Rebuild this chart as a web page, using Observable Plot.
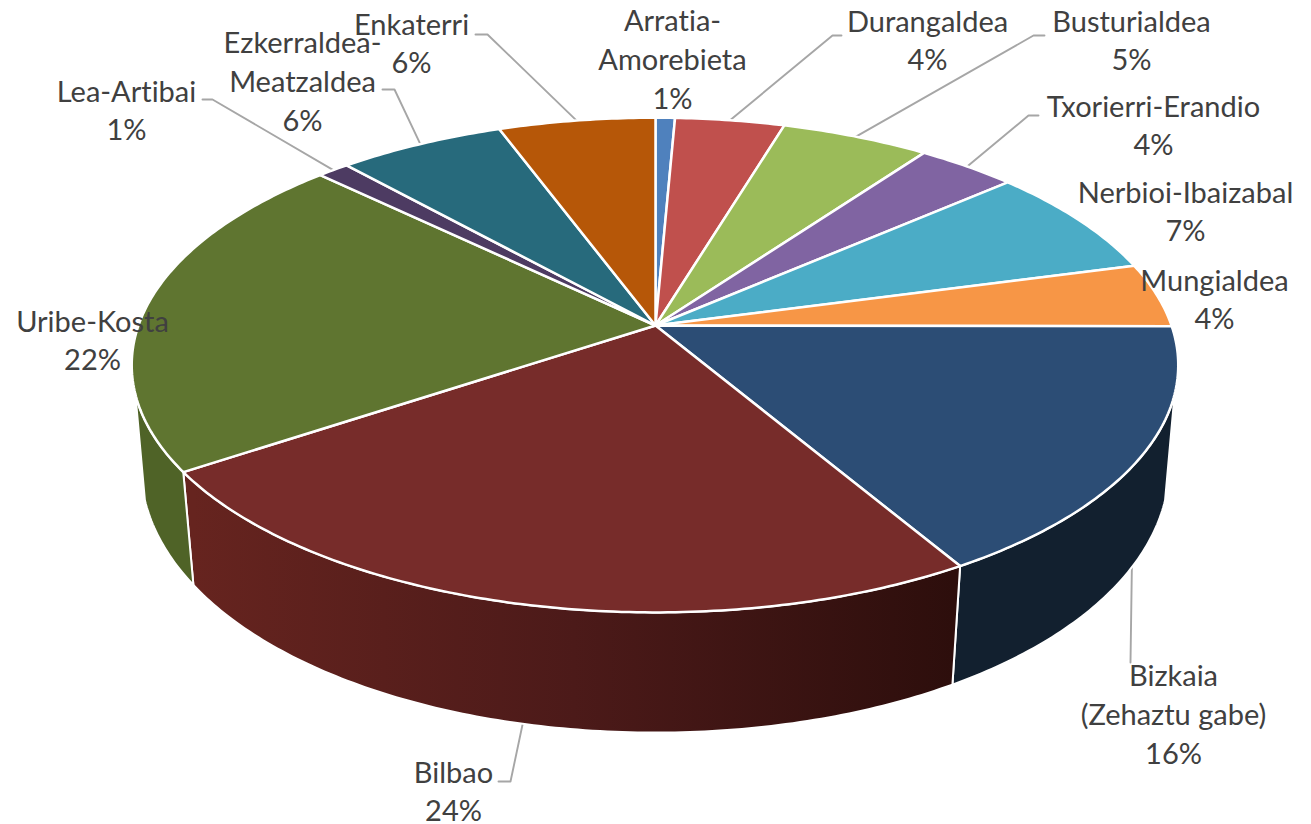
<!DOCTYPE html>
<html><head><meta charset="utf-8">
<script src="https://cdn.jsdelivr.net/npm/d3@7"></script>
<script src="https://cdn.jsdelivr.net/npm/@observablehq/plot@0.6"></script>
<style>html,body{margin:0;background:#fff}svg{display:block}svg text{font-variant-ligatures:none}</style>
</head><body><div id="chart"></div>
<script>
// Data
const names = ["Arratia-\nAmorebieta","Durangaldea","Busturialdea","Txorierri-Erandio","Nerbioi-Ibaizabal","Mungialdea","Bizkaia\n(Zehaztu gabe)","Bilbao","Uribe-Kosta","Lea-Artibai","Ezkerraldea-\nMeatzaldea","Enkaterri"];
const values = [0.7,3.95,5.35,3.6,7.25,4.2,16.45,24.15,21.55,1.15,6.0,5.65];
const colors = ["#4f81bd","#c0504d","#9bbb59","#8064a2","#4bacc6","#f79646","#2c4d75","#772c2a","#5f7530","#4d3b62","#276a7c","#b65708"];
const sideColors = {6:"#12202f",7:"url(#bilbaoSide)",8:"#4f6327"};

// Layout of the labels and leader elbows
const labelX = [672,927,1131,1153,1185,1214,1173,453,92,126,302,411];
const labelY = [57,38,38,123,209,297,712,789,338,108,79,41];
const leaderElbows = {
  1:[[832,35],[841,35]], 2:[[1033,35],[1044,35]], 3:[[1028,115],[1038,115]],
  6:[[1130,662]], 7:[[510,781],[498,781]],
  9:[[212,99],[202,99]], 10:[[394,89],[382,89]], 11:[[487,34],[475,34]]
};

// Perspective projection of the pie's top and base discs
const top3d  = {cx:655, cy:325, A:516, B:241, kx:0.16, ky:0.16};
const base3d = {cx:655, cy:423, A:508, B:272, kx:0.15, ky:0.12};
const leftStretch = 1.002;
const total = d3.sum(values);
const cum = d3.cumsum(values).map(v => v / total);
const starts = [0, ...cum.slice(0, -1)];
const project = (f, p) => {
  const a = 2 * Math.PI * f, X = Math.sin(a), Y = Math.cos(a);
  const A = X < 0 ? p.A * leftStretch : p.A;
  return [p.cx + A * X / (1 + p.kx * Y), p.cy - p.B * Y / (1 + p.ky * Y)];
};
const rim = (f0, f1, p) => {
  const n = Math.max(2, Math.ceil((f1 - f0) / 0.002));
  return d3.range(n + 1).map(i => project(f0 + (f1 - f0) * i / n, p));
};
const visFrom = 0.294, visTo = 0.706;

const sideMarks = values.map((_, i) => {
  const a = Math.max(starts[i], visFrom), b = Math.min(cum[i], visTo);
  if (b <= a) return null;
  const pts = [...rim(a, b, top3d), ...rim(a, b, base3d).reverse()];
  return Plot.line(pts, {x: d => d[0], y: d => d[1], curve: "linear-closed",
    fill: sideColors[i], stroke: "white", strokeWidth: 2});
}).filter(Boolean);

const topMarks = values.map((_, i) => {
  const pts = [[top3d.cx, top3d.cy], ...rim(starts[i], cum[i], top3d)];
  return Plot.line(pts, {x: d => d[0], y: d => d[1], curve: "linear-closed",
    fill: colors[i], stroke: "white", strokeWidth: 2.5});
});

const leaderMarks = Object.entries(leaderElbows).map(([k, elbows]) => {
  const i = +k, mid = (starts[i] + cum[i]) / 2;
  const from = (i === 6 || i === 7) ? project(mid, base3d) : project(mid, top3d);
  return Plot.line([from, ...elbows], {x: d => d[0], y: d => d[1], stroke: "#a6a6a6", strokeWidth: 1.9});
});

const labels = names.map((n, i) => ({
  text: n + "\n" + Math.round(values[i]) + "%", x: labelX[i], y: labelY[i]
}));

const defs = () => {
  const g = document.createElementNS("http://www.w3.org/2000/svg", "g");
  g.innerHTML = `<defs><linearGradient id="bilbaoSide" gradientUnits="userSpaceOnUse" x1="193" x2="953" y1="0" y2="0">
    <stop offset="0" stop-color="#66241f"/><stop offset="0.5" stop-color="#4c1a19"/><stop offset="1" stop-color="#2d0e0c"/>
  </linearGradient></defs>`;
  return g;
};

const plot = Plot.plot({
  width: 1311, height: 824, margin: 0,
  x: {domain: [0, 1311], range: [0, 1311], axis: null},
  y: {domain: [0, 824], range: [0, 824], axis: null},
  style: {background: "#fff", fontFamily: "Lato, sans-serif"},
  marks: [
    defs,
    ...leaderMarks,
    ...sideMarks,
    ...topMarks,
    Plot.text(labels, {x: "x", y: "y", text: "text", fontSize: 29, lineHeight: 1.34,
      fill: "#404040", textAnchor: "middle", lineAnchor: "middle"})
  ]
});
document.getElementById("chart").appendChild(plot);
</script></body></html>
